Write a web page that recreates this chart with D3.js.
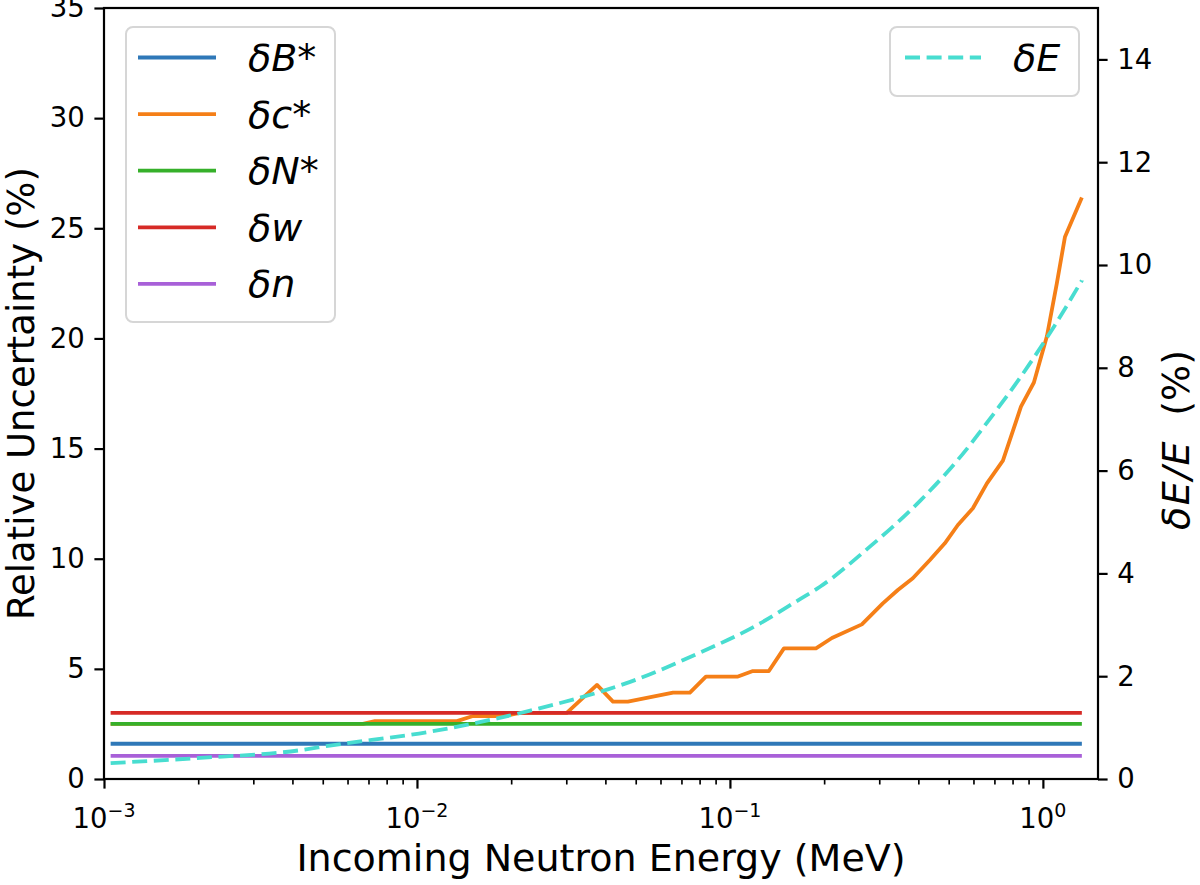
<!DOCTYPE html>
<html>
<head>
<meta charset="utf-8">
<script src="https://cdn.jsdelivr.net/npm/d3@7"></script>
<style>
  body { margin: 0; background: #fff; }
  svg { display: block; }
  text { font-family: "DejaVu Sans", sans-serif; fill: #000; }
</style>
</head>
<body>
<svg id="chart" width="1200" height="885"></svg>
<script>
// energy grid (MeV) for the flat components
const energyFlat = [0.00105, 1.332];
const deltaB = [1.6, 1.6];
const deltaN = [2.5, 2.5];
const deltaW = [3.0, 3.0];
const deltaNn = [1.05, 1.05];

// delta c* curve
const energyC = [0.00105, 0.00672, 0.00734, 0.01342, 0.0151, 0.0191, 0.0213, 0.0301, 0.0376, 0.0423,
  0.0472, 0.0658, 0.0745, 0.0838, 0.1061, 0.1184, 0.1332, 0.1488, 0.1883, 0.2118,
  0.264, 0.308, 0.344, 0.384, 0.4355, 0.486, 0.535, 0.5975, 0.6625, 0.7452,
  0.802, 0.851, 0.936, 1.03, 1.108, 1.176, 1.332];
const deltaC = [2.5, 2.5, 2.63, 2.63, 2.86, 2.86, 3.0, 3.0, 4.27, 3.51,
  3.51, 3.92, 3.92, 4.65, 4.65, 4.9, 4.9, 5.93, 5.93, 6.4,
  7.02, 7.97, 8.58, 9.11, 9.94, 10.7, 11.53, 12.29, 13.42, 14.45,
  15.8, 16.9, 18.0, 20.1, 22.5, 24.6, 26.4];

// delta E / E (right axis)
const energyE = [0.00105, 0.00203, 0.00423, 0.00527, 0.011, 0.023, 0.0405, 0.048, 0.0802,
  0.116, 0.1675, 0.194, 0.28, 0.405, 0.585, 0.629, 0.908, 1.09, 1.332];
const deltaE = [0.31, 0.41, 0.56, 0.65, 0.92, 1.33, 1.74, 1.89, 2.46,
  2.92, 3.5, 3.74, 4.52, 5.41, 6.5, 6.75, 8.08, 8.82, 9.7];

const xMajor = [0.001, 0.01, 0.1, 1];
const xMajorExp = ["\u22123", "\u22122", "\u22121", "0"];
const yLeftTicks = [0, 5, 10, 15, 20, 25, 30, 35];
const yRightTicks = [0, 2, 4, 6, 8, 10, 12, 14];

const margin = { left: 104, right: 1098, top: 8, bottom: 779 };
const svg = d3.select('#chart');

const x = d3.scaleLog().domain([0.001, 1.5]).range([margin.left, margin.right]);
const yL = d3.scaleLinear().domain([0, 35]).range([margin.bottom, margin.top]);
const yR = d3.scaleLinear().domain([0, 15]).range([margin.bottom, margin.top]);

// minor ticks 2..9 of every decade
const xMinor = [];
xMajor.forEach(d => {
  for (let k = 2; k <= 9; k++) {
    if (d * k <= 1.5) xMinor.push(d * k);
  }
});

const series = [
  { name: 'B', xs: energyFlat, ys: deltaB, color: '#2f78b8', y: yL },
  { name: 'c', xs: energyC, ys: deltaC, color: '#f57f17', y: yL },
  { name: 'N', xs: energyFlat, ys: deltaN, color: '#36b02a', y: yL },
  { name: 'w', xs: energyFlat, ys: deltaW, color: '#d62a26', y: yL },
  { name: 'n', xs: energyFlat, ys: deltaNn, color: '#a860d8', y: yL }
];

const plot = svg.append('g');

series.forEach(s => {
  const line = d3.line().x(d => x(d[0])).y(d => s.y(d[1]));
  plot.append('path')
    .datum(s.xs.map((v, i) => [v, s.ys[i]]))
    .attr('d', line)
    .attr('fill', 'none')
    .attr('stroke', s.color)
    .attr('stroke-width', 3.8)
    .attr('stroke-linejoin', 'round');
});

const lineE = d3.line().x(d => x(d[0])).y(d => yR(d[1])).curve(d3.curveMonotoneX);
plot.append('path')
  .datum(energyE.map((v, i) => [v, deltaE[i]]))
  .attr('d', lineE)
  .attr('fill', 'none')
  .attr('stroke', '#48ddd0')
  .attr('stroke-width', 3.8)
  .attr('stroke-dasharray', '15,6.6');

// axes
const gx = svg.append('g').attr('transform', `translate(0,${margin.bottom})`);
gx.call(d3.axisBottom(x).tickValues(xMinor).tickSize(5.5).tickFormat(''));
gx.selectAll('line').attr('stroke-width', 1.65);
const gxMaj = svg.append('g').attr('transform', `translate(0,${margin.bottom})`);
gxMaj.call(d3.axisBottom(x).tickValues(xMajor).tickSize(9.6).tickFormat(''));
gxMaj.selectAll('line').attr('stroke-width', 2.2);
svg.selectAll('.domain').remove();

xMajor.forEach((v, i) => {
  const t = svg.append('text')
    .attr('x', x(v)).attr('y', 828)
    .attr('text-anchor', 'middle')
    .attr('font-size', 27.5);
  t.append('tspan').text('10');
  t.append('tspan').attr('font-size', 19).attr('dy', -11).text(xMajorExp[i]);
});

const gyL = svg.append('g').attr('transform', `translate(${margin.left},0)`)
  .call(d3.axisLeft(yL).tickValues(yLeftTicks).tickSize(9.6).tickPadding(9.6));
gyL.select('.domain').remove();
gyL.selectAll('line').attr('stroke-width', 2.2);
gyL.selectAll('text').attr('font-size', 27.5).attr('font-family', 'DejaVu Sans');

const gyR = svg.append('g').attr('transform', `translate(${margin.right},0)`)
  .call(d3.axisRight(yR).tickValues(yRightTicks).tickSize(9.6).tickPadding(9.6));
gyR.select('.domain').remove();
gyR.selectAll('line').attr('stroke-width', 2.2);
gyR.selectAll('text').attr('font-size', 27.5).attr('font-family', 'DejaVu Sans');

// spines
svg.append('rect')
  .attr('x', margin.left).attr('y', margin.top)
  .attr('width', margin.right - margin.left).attr('height', margin.bottom - margin.top)
  .attr('fill', 'none').attr('stroke', '#000').attr('stroke-width', 2.2);

// axis titles
const midY = (margin.top + margin.bottom) / 2;
svg.append('text')
  .attr('x', (margin.left + margin.right) / 2).attr('y', 871)
  .attr('text-anchor', 'middle').attr('font-size', 38)
  .text('Incoming Neutron Energy (MeV)');

svg.append('text')
  .attr('transform', `translate(34,${midY}) rotate(-90)`)
  .attr('text-anchor', 'middle').attr('font-size', 37)
  .text('Relative Uncertainty (%)');

const rt = svg.append('text')
  .attr('transform', 'translate(1189,530) rotate(-90)')
  .attr('text-anchor', 'start').attr('font-size', 38);
rt.append('tspan').attr('font-style', 'italic').attr('letter-spacing', 1.5).text('\u03b4E/E');
rt.append('tspan').text('\u00a0\u00a0(%)');

// legend left
const legLabels = [['\u03b4B', '*'], ['\u03b4c', '*'], ['\u03b4N', '*'], ['\u03b4w', ''], ['\u03b4n', '']];
const leg = svg.append('g');
leg.append('rect')
  .attr('x', 126).attr('y', 27).attr('width', 209).attr('height', 295)
  .attr('rx', 7).attr('fill', 'rgba(255,255,255,0.8)')
  .attr('stroke', '#d6d6d6').attr('stroke-width', 2);
series.forEach((s, i) => {
  const yy = 57.5 + i * 56.6;
  leg.append('line')
    .attr('x1', 138).attr('x2', 216).attr('y1', yy).attr('y2', yy)
    .attr('stroke', s.color).attr('stroke-width', 3.8);
  const t = leg.append('text').attr('x', 248).attr('y', yy + 13.5).attr('font-size', 38);
  t.append('tspan').attr('font-style', 'italic').text(legLabels[i][0]);
  t.append('tspan').text(legLabels[i][1]);
});

// legend right
const leg2 = svg.append('g');
leg2.append('rect')
  .attr('x', 890).attr('y', 27).attr('width', 189).attr('height', 69)
  .attr('rx', 7).attr('fill', 'rgba(255,255,255,0.8)')
  .attr('stroke', '#d6d6d6').attr('stroke-width', 2);
leg2.append('line')
  .attr('x1', 905).attr('x2', 981).attr('y1', 57.5).attr('y2', 57.5)
  .attr('stroke', '#48ddd0').attr('stroke-width', 3.8)
  .attr('stroke-dasharray', '15,6.6');
leg2.append('text').attr('x', 1013).attr('y', 71).attr('font-size', 38)
  .attr('font-style', 'italic').text('\u03b4E');
</script>
</body>
</html>
